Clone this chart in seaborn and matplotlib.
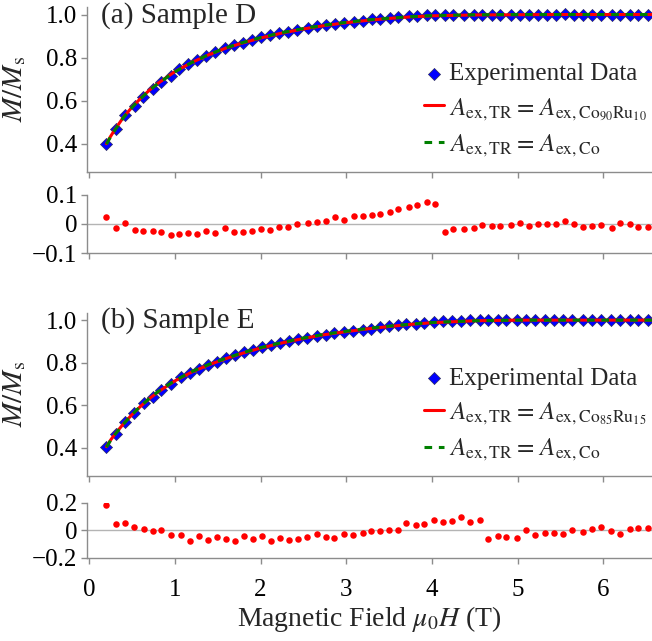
import matplotlib
matplotlib.use("Agg")
import matplotlib.pyplot as plt
import seaborn as sns

# =========================
# dados
# =========================
field_a = [0.20, 0.31, 0.42, 0.53, 0.63, 0.74, 0.84, 0.95, 1.05, 1.15, 1.26, 1.36, 1.47,
           1.58, 1.69, 1.79, 1.90, 2.01, 2.11, 2.22, 2.32, 2.43, 2.55, 2.66, 2.76,
           2.87, 2.97, 3.09, 3.19, 3.30, 3.40, 3.51, 3.61, 3.73, 3.83, 3.94, 4.04,
           4.15, 4.25, 4.38, 4.49, 4.59, 4.70, 4.80, 4.92, 5.03, 5.13, 5.24, 5.34,
           5.45, 5.55, 5.66, 5.76, 5.87, 5.97, 6.10, 6.20, 6.31, 6.41, 6.52]
m_a = [0.400, 0.468, 0.532, 0.575, 0.617, 0.655, 0.688, 0.716, 0.745, 0.769, 0.789, 0.808, 0.826,
       0.845, 0.858, 0.870, 0.883, 0.896, 0.904, 0.914, 0.921, 0.930, 0.939, 0.945, 0.951,
       0.956, 0.961, 0.967, 0.972, 0.977, 0.981, 0.985, 0.989, 0.992, 0.994, 0.997, 0.998,
       0.997, 0.998, 0.998, 0.999, 0.999, 0.999, 0.999, 1.000, 1.000, 0.999, 1.000, 1.000,
       1.000, 1.001, 1.000, 0.999, 1.000, 1.000, 0.999, 1.000, 1.000, 0.999, 0.999]
res_a = [0.023, -0.015, 0.003, -0.022, -0.023, -0.025, -0.026, -0.038, -0.033, -0.030, -0.033, -0.024, -0.031,
         -0.014, -0.026, -0.028, -0.023, -0.016, -0.020, -0.009, -0.010, 0.001, 0.005, 0.007, 0.011,
         0.023, 0.014, 0.026, 0.026, 0.032, 0.034, 0.041, 0.053, 0.057, 0.064, 0.077, 0.069,
         -0.026, -0.016, -0.018, -0.015, -0.005, -0.006, -0.008, -0.002, 0.003, -0.008, 0.000, 0.000,
         0.000, 0.010, -0.001, -0.009, -0.006, -0.005, -0.013, 0.003, 0.001, -0.009, -0.010]

field_b = [0.20, 0.31, 0.42, 0.52, 0.64, 0.74, 0.84, 0.95, 1.07, 1.18, 1.28, 1.39, 1.49,
           1.60, 1.70, 1.81, 1.91, 2.02, 2.12, 2.23, 2.33, 2.44, 2.54, 2.66, 2.76,
           2.86, 2.97, 3.08, 3.19, 3.29, 3.40, 3.50, 3.60, 3.70, 3.81, 3.91, 4.02, 4.13,
           4.23, 4.34, 4.44, 4.56, 4.66, 4.77, 4.87, 4.99, 5.10, 5.20, 5.32, 5.43,
           5.53, 5.64, 5.77, 5.87, 5.98, 6.09, 6.20, 6.31, 6.41, 6.52]
m_b = [0.406, 0.465, 0.520, 0.563, 0.609, 0.641, 0.672, 0.702, 0.731, 0.752, 0.770, 0.789, 0.805,
       0.822, 0.836, 0.850, 0.862, 0.874, 0.884, 0.894, 0.902, 0.911, 0.918, 0.926, 0.932,
       0.938, 0.944, 0.950, 0.955, 0.960, 0.966, 0.971, 0.975, 0.980, 0.984, 0.988, 0.991, 0.994,
       0.996, 0.998, 0.999, 1.000, 0.999, 1.000, 1.000, 0.999, 1.000, 1.000, 1.000, 1.001,
       1.000, 1.000, 1.000, 1.001, 1.000, 1.000, 0.999, 1.000, 1.001, 1.000]
res_b = [0.182, 0.048, 0.051, 0.022, 0.010, -0.002, 0.002, -0.034, -0.032, -0.080, -0.039, -0.070, -0.044,
         -0.061, -0.080, -0.041, -0.063, -0.041, -0.073, -0.056, -0.068, -0.065, -0.046, -0.027, -0.048,
         -0.058, -0.024, -0.036, -0.015, -0.005, -0.005, 0.007, 0.002, 0.051, 0.039, 0.046, 0.073, 0.063,
         0.070, 0.097, 0.061, 0.075, -0.061, -0.039, -0.046, -0.058, 0.007, -0.034, -0.015, -0.019,
         -0.022, 0.002, -0.010, 0.012, 0.022, -0.005, -0.024, 0.010, 0.017, 0.015]

# curvas de ajuste (grade mais grossa)
fit_field = [0.2, 0.25, 0.3, 0.4, 0.5, 0.6, 0.7, 0.8, 1.0, 1.2, 1.4, 1.6, 1.8, 2.0,
             2.25, 2.5, 2.75, 3.0, 3.25, 3.5, 3.75, 4.0, 4.5, 5.0, 5.5, 6.0, 6.6]
fit_a_red = [0.400, 0.435, 0.466, 0.524, 0.570, 0.611, 0.648, 0.680, 0.735, 0.778, 0.814, 0.845, 0.869, 0.891,
             0.914, 0.933, 0.949, 0.962, 0.973, 0.982, 0.989, 0.994, 0.998, 0.999, 1.000, 1.000, 1.000]
fit_a_green = [0.398, 0.433, 0.464, 0.522, 0.569, 0.610, 0.647, 0.679, 0.734, 0.778, 0.815, 0.846, 0.871, 0.893,
               0.916, 0.935, 0.951, 0.964, 0.975, 0.983, 0.990, 0.995, 0.999, 1.000, 1.000, 1.000, 1.000]
fit_b_red = [0.406, 0.438, 0.465, 0.514, 0.557, 0.596, 0.631, 0.662, 0.715, 0.757, 0.791, 0.820, 0.846, 0.869,
             0.893, 0.914, 0.932, 0.946, 0.959, 0.970, 0.980, 0.988, 0.997, 1.000, 1.000, 1.000, 1.000]
fit_b_green = [0.404, 0.436, 0.464, 0.513, 0.557, 0.597, 0.632, 0.664, 0.717, 0.759, 0.793, 0.822, 0.848, 0.871,
               0.895, 0.916, 0.934, 0.948, 0.961, 0.972, 0.981, 0.989, 0.997, 1.000, 1.000, 1.000, 1.000]

x_ticks = [0, 1, 2, 3, 4, 5, 6]
main_ticks = [0.4, 0.6, 0.8, 1.0]
main_ticklabels = ["0.4", "0.6", "0.8", "1.0"]

# =========================
# estilo
# =========================
sns.set_style("ticks")
plt.rcParams["font.family"] = ["Liberation Serif", "DejaVu Serif"]
plt.rcParams["mathtext.fontset"] = "stix"

spine_color = "#8c8c8c"

fig = plt.figure(figsize=(6.52, 6.41), dpi=100)

ax_a = fig.add_axes([0.1334, 0.7321, 0.8666, 0.2570])
ax_ra = fig.add_axes([0.1334, 0.6053, 0.8666, 0.0905])
ax_b = fig.add_axes([0.1334, 0.2579, 0.8666, 0.2543])
ax_rb = fig.add_axes([0.1334, 0.1295, 0.8666, 0.0858])


def estilo_eixo(ax):
    sns.despine(ax=ax, top=True, right=True)
    for lado in ["left", "bottom"]:
        ax.spines[lado].set_color(spine_color)
        ax.spines[lado].set_linewidth(1.0)
    ax.tick_params(axis="both", direction="out", length=4, width=1.0,
                   color=spine_color, labelsize=18, labelcolor="black", pad=3)
    ax.set_xlim(-0.027, 6.57)
    ax.set_xticks(x_ticks)
    ax.set_xlabel("")
    ax.set_ylabel("")


def painel_principal(ax, campo, m, fit_red, fit_green, rotulo_red, titulo):
    sns.scatterplot(x=campo, y=m, ax=ax, marker="D", s=38, color="#0000ff",
                    edgecolor="#303060", linewidth=0.5, zorder=2,
                    label="Experimental Data")
    sns.lineplot(x=fit_field, y=fit_red, ax=ax, color="#ff0000", lw=2.2,
                 zorder=3, label=rotulo_red)
    sns.lineplot(x=fit_field, y=fit_green, ax=ax, color="#008000", lw=2.2,
                 linestyle=(0, (2.5, 2.2)), zorder=4,
                 label=r"$A_{\mathrm{ex,TR}} =\,A_{\mathrm{ex,Co}}$")
    estilo_eixo(ax)
    ax.set_ylim(0.27, 1.035)
    ax.set_yticks(main_ticks)
    ax.set_yticklabels(main_ticklabels)
    ax.tick_params(axis="x", labelbottom=False)
    ax.set_ylabel(r"$M/M_{\mathrm{s}}$", fontsize=21)
    ax.yaxis.set_label_coords(-0.104, 0.5)
    ax.text(0.024, 0.951, titulo, transform=ax.transAxes, fontsize=21,
            ha="left", va="center")
    ax.legend(loc="center right", bbox_to_anchor=(0.99, 0.37), frameon=False,
              fontsize=18, handlelength=0.8, handletextpad=0.2,
              labelspacing=0.42, borderpad=0, borderaxespad=0)


def painel_residuo(ax, campo, res, lim, labels):
    ax.axhline(0, color="#b4b4b4", lw=1.0, zorder=1)
    sns.scatterplot(x=campo, y=res, ax=ax, color="#ff0000", s=22,
                    linewidth=0, zorder=3)
    estilo_eixo(ax)
    ax.set_ylim(-lim, lim)
    ax.set_yticks([lim, 0, -lim])
    ax.set_yticklabels(labels)


painel_principal(ax_a, field_a, m_a, fit_a_red, fit_a_green,
                 r"$A_{\mathrm{ex,TR}} =\,A_{\mathrm{ex,Co}_{90}\mathrm{Ru}_{10}}$",
                 "(a) Sample D")
painel_principal(ax_b, field_b, m_b, fit_b_red, fit_b_green,
                 r"$A_{\mathrm{ex,TR}} =\,A_{\mathrm{ex,Co}_{85}\mathrm{Ru}_{15}}$",
                 "(b) Sample E")

painel_residuo(ax_ra, field_a, res_a, 0.1, ["0.1", "0", "\u22120.1"])
ax_ra.tick_params(axis="x", labelbottom=False)
painel_residuo(ax_rb, field_b, res_b, 0.2, ["0.2", "0", "\u22120.2"])
ax_rb.tick_params(axis="x", pad=11)

fig.text(0.5667, 0.035, r"Magnetic Field $\mu_0H$ (T)", fontsize=20,
         ha="center", va="center")

fig.savefig("out.png", dpi=100)
